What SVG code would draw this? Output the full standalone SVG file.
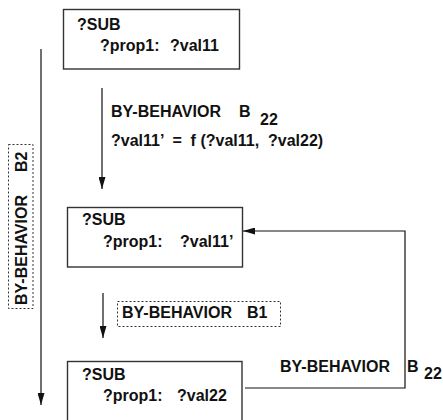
<svg xmlns="http://www.w3.org/2000/svg" width="443" height="420" viewBox="0 0 443 420">
<defs>
<style>
text{font-family:"Liberation Sans",Arial,sans-serif;font-weight:bold;font-size:16px;fill:#111}
.box{fill:#fff;stroke:#333;stroke-width:1.4}
.dash{fill:none;stroke:#333;stroke-width:1;stroke-dasharray:2,2}
.conn{fill:none;stroke:#111;stroke-width:1.2}
</style>
<marker id="ah" viewBox="0 0 12 7" refX="12" refY="3.5" markerWidth="12" markerHeight="7" markerUnits="userSpaceOnUse" orient="auto">
<path d="M0,0 L12,3.5 L0,7 z" fill="#111"/>
</marker>
</defs>
<rect width="443" height="420" fill="#fff"/>
<g id="node1">
<rect class="box" x="63.5" y="9.5" width="176" height="59.5"/>
<text x="77" y="30">?SUB</text>
<text x="100" y="51">?prop1:</text>
<text x="170" y="51">?val11</text>
</g>
<g id="node2">
<rect class="box" x="67.5" y="207.5" width="175" height="59.5"/>
<text x="82" y="225">?SUB</text>
<text x="103" y="247">?prop1:</text>
<text x="180" y="247">?val11’</text>
</g>
<g id="node3">
<rect class="box" x="67.5" y="361.5" width="174.5" height="70"/>
<text x="82" y="380">?SUB</text>
<text x="103" y="401">?prop1:</text>
<text x="177" y="401">?val22</text>
</g>
<g id="labelB2">
<rect class="dash" x="8.5" y="144.5" width="24.5" height="164"/>
<g transform="translate(26.5,305) rotate(-90)">
<text x="0" y="0">BY-BEHAVIOR</text>
<text x="133" y="0">B2</text>
</g>
</g>
<g id="labelB1">
<rect class="dash" x="117.5" y="301.5" width="163" height="25"/>
<text x="122" y="318">BY-BEHAVIOR</text>
<text x="247" y="318">B1</text>
</g>
<g id="labelB22top">
<text x="111" y="117">BY-BEHAVIOR</text>
<text x="239" y="117">B</text>
<text x="260" y="125">22</text>
<text x="111" y="146" xml:space="preserve">?val11’  =  f (?val11,  ?val22)</text>
</g>
<g id="labelB22bottom">
<text x="280" y="372">BY-BEHAVIOR</text>
<text x="407" y="372">B</text>
<text x="424" y="379">22</text>
</g>
<g id="connectors">
<line class="conn" x1="41" y1="49" x2="41" y2="405" marker-end="url(#ah)"/>
<line class="conn" x1="102" y1="88" x2="102" y2="189" marker-end="url(#ah)"/>
<line class="conn" x1="103" y1="293" x2="103" y2="338" marker-end="url(#ah)"/>
<polyline class="conn" points="245,388 405,388 405,231 243,231" marker-end="url(#ah)"/>
</g>
</svg>
